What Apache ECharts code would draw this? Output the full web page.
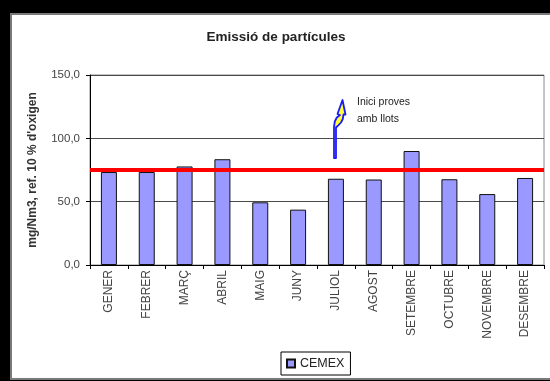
<!DOCTYPE html>
<html>
<head>
<meta charset="utf-8">
<script src="https://cdn.jsdelivr.net/npm/echarts@6/dist/echarts.min.js"></script>
<style>
  html, body { margin: 0; padding: 0; background: #000; }
  #chart { width: 550px; height: 381px; }
</style>
</head>
<body>
<div id="chart"></div>
<script>
// Monthly particulate emission (mg/Nm3, ref. 10 % oxygen)
const months = ['GENER', 'FEBRER', 'MARÇ', 'ABRIL', 'MAIG', 'JUNY', 'JULIOL', 'AGOST', 'SETEMBRE', 'OCTUBRE', 'NOVEMBRE', 'DESEMBRE'];
const cemex = [73.4, 73.4, 77.8, 83.5, 49.5, 43.7, 68.1, 67.5, 90.0, 67.7, 56.0, 68.7];
const limitValue = 75;
const yTicks = [0, 50, 100, 150];

const FONT = 'Liberation Sans, Arial, sans-serif';
const chart = echarts.init(document.getElementById('chart'), null, { renderer: 'canvas' });

chart.setOption({
  backgroundColor: '#000',
  animation: false,
  textStyle: { fontFamily: FONT },
  title: {
    text: 'Emissió de partícules',
    left: 271,
    top: 25,
    textAlign: 'center',
    textStyle: { fontSize: 13.5, fontWeight: 'bold', color: '#222', fontFamily: FONT }
  },
  legend: {
    data: ['CEMEX'],
    left: 281,
    top: 352,
    itemWidth: 8,
    itemHeight: 8,
    itemGap: 4,
    icon: 'rect',
    padding: [5, 6, 5, 5],
    borderColor: '#000',
    borderWidth: 1,
    backgroundColor: '#fff',
    textStyle: { fontSize: 12.5, color: '#222', fontFamily: FONT }
  },
  grid: {
    left: 90, top: 75, right: 6, bottom: 116,
    show: true,
    backgroundColor: '#fff',
    borderColor: '#8a8a8a',
    borderWidth: 1
  },
  xAxis: {
    type: 'category',
    data: months,
    boundaryGap: true,
    axisLine: { lineStyle: { color: '#000', width: 1 } },
    axisTick: { show: true, length: 4, interval: 0, lineStyle: { color: '#000' } },
    axisLabel: {
      interval: 0, rotate: 90, margin: 5,
      fontSize: 12, color: '#444', fontFamily: FONT
    },
    splitLine: { show: false }
  },
  yAxis: {
    type: 'value',
    min: yTicks[0],
    max: yTicks[yTicks.length - 1],
    interval: yTicks[1] - yTicks[0],
    name: "mg/Nm3, ref. 10 % d'oxigen",
    nameLocation: 'middle',
    nameGap: 51,
    nameTextStyle: { fontSize: 12, fontWeight: 'bold', color: '#333', fontFamily: FONT },
    axisLine: { show: true, lineStyle: { color: '#000', width: 1 } },
    axisTick: { show: true, length: 4, lineStyle: { color: '#000' } },
    axisLabel: {
      margin: 10, fontSize: 11.5, color: '#444', fontFamily: FONT,
      formatter: v => v.toFixed(1).replace('.', ',')
    },
    splitLine: { show: true, lineStyle: { color: '#4a4a4a', width: 1 } }
  },
  series: [{
    name: 'CEMEX',
    type: 'bar',
    data: cemex,
    barWidth: 16,
    itemStyle: { color: '#9999ff', borderColor: '#111', borderWidth: 1 },
    markLine: {
      silent: true,
      symbol: ['none', 'none'],
      label: { show: false },
      lineStyle: { color: '#ff0000', width: 4, type: 'solid' },
      data: [{ yAxis: limitValue }]
    }
  }],
  graphic: [
    {
      type: 'rect', z: -10,
      shape: { x: 11, y: 14, width: 545, height: 365 },
      style: { fill: '#fff', stroke: '#7a7a7a', lineWidth: 2 }
    },
    {
      // curved arrow pointing to the start of the sludge trials
      type: 'polygon', z: 10,
      shape: {
        points: [
          [334, 158], [334, 127], [334.8, 121.5], [336.8, 117.5], [340, 115],
          [337.5, 114], [342.5, 100], [345.5, 114.5], [343.5, 114.5],
          [342.8, 119], [341, 122.5], [338.3, 125.3], [336, 127.5], [336, 158]
        ]
      },
      style: { fill: '#ffff33', stroke: '#1a1aff', lineWidth: 1.8, lineJoin: 'round' }
    },
    {
      type: 'text', z: 10,
      left: 357, top: 94,
      style: {
        text: 'Inici proves\namb llots',
        fontSize: 10.5, lineHeight: 17, fill: '#222', fontFamily: FONT
      }
    }
  ]
});
</script>
</body>
</html>
